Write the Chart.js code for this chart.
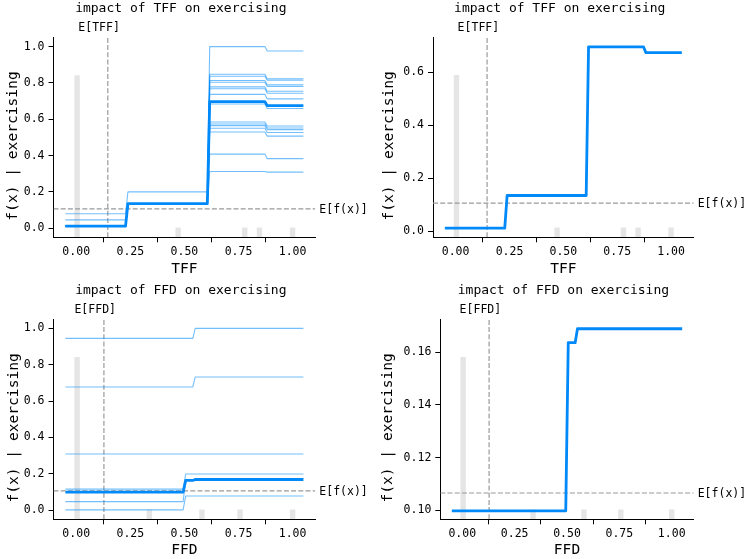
<!DOCTYPE html>
<html>
<head>
<meta charset="utf-8">
<title>Partial dependence of exercising</title>
<script src="https://cdn.jsdelivr.net/npm/chart.js@4.4.1/dist/chart.umd.min.js"></script>
<style>
    html, body { margin: 0; padding: 0; background: #fff; }
    #page { position: relative; width: 746px; height: 559px; overflow: hidden; }
    .panel { position: absolute; }
</style>
</head>
<body>
<div id="page">
    <div class="panel" id="wrap_tff_ice"><canvas id="tff_ice"></canvas></div>
    <div class="panel" id="wrap_tff_pdp"><canvas id="tff_pdp"></canvas></div>
    <div class="panel" id="wrap_ffd_ice"><canvas id="ffd_ice"></canvas></div>
    <div class="panel" id="wrap_ffd_pdp"><canvas id="ffd_pdp"></canvas></div>
</div>
<script>
// --- TFF: grid points around each level change, averaged curve and ICE curves
const tffX = [-0.05, 0.228, 0.239, 0.606, 0.617, 0.872, 0.883, 1.05];
const tffPdp = [0.012, 0.012, 0.135, 0.135, 0.697, 0.697, 0.675, 0.675];
const tffIce = [
    [0.080, 0.080, 0.200, 0.200, 1.000, 1.000, 0.976, 0.976],
    [0.046, 0.046, 0.135, 0.135, 0.848, 0.848, 0.822, 0.822],
    [0.010, 0.010, 0.135, 0.135, 0.837, 0.837, 0.815, 0.815],
    [0.010, 0.010, 0.135, 0.135, 0.813, 0.813, 0.789, 0.789],
    [0.010, 0.010, 0.135, 0.135, 0.804, 0.804, 0.780, 0.780],
    [0.010, 0.010, 0.135, 0.135, 0.778, 0.778, 0.754, 0.754],
    [0.010, 0.010, 0.135, 0.135, 0.768, 0.768, 0.743, 0.743],
    [0.010, 0.010, 0.135, 0.135, 0.737, 0.737, 0.712, 0.712],
    [0.010, 0.010, 0.135, 0.135, 0.684, 0.684, 0.659, 0.659],
    [0.010, 0.010, 0.135, 0.135, 0.585, 0.585, 0.563, 0.563],
    [0.010, 0.010, 0.135, 0.135, 0.574, 0.574, 0.552, 0.552],
    [0.010, 0.010, 0.135, 0.135, 0.565, 0.565, 0.543, 0.543],
    [0.010, 0.010, 0.135, 0.135, 0.550, 0.550, 0.527, 0.527],
    [0.010, 0.010, 0.135, 0.135, 0.530, 0.530, 0.507, 0.507],
    [0.010, 0.010, 0.135, 0.135, 0.408, 0.408, 0.383, 0.383],
    [0.010, 0.010, 0.135, 0.135, 0.312, 0.312, 0.309, 0.309]
];
const tffHistX = [0.004, 0.471, 0.779, 0.847, 1.0];
const tffHistCount = [17, 1, 1, 1, 1];
const tffMean = 0.146;

// --- FFD
const ffdX = [-0.05, 0.494, 0.506, 0.539, 0.55, 1.05];
const ffdPdp = [0.0997, 0.0997, 0.1637, 0.1637, 0.169, 0.169];
const ffdIce = [
    [0.945, 0.945, 0.945, 0.945, 1.000, 1.000],
    [0.678, 0.678, 0.678, 0.678, 0.733, 0.733],
    [0.309, 0.309, 0.309, 0.309, 0.309, 0.309],
    [0.116, 0.116, 0.199, 0.199, 0.199, 0.199],
    [0.047, 0.047, 0.166, 0.166, 0.173, 0.173],
    [0.002, 0.002, 0.078, 0.078, 0.078, 0.078]
];
const ffdHistX = [0.004, 0.338, 0.581, 0.757, 1.0];
const ffdHistCount = [17, 1, 1, 1, 1];
const ffdMean = 0.128;

const expectedValue = 0.1065;
const sampleCount = 21;

// --- tick labels
const xTicks = [0, 0.25, 0.5, 0.75, 1.0];
const xTickLabels = ['0.00', '0.25', '0.50', '0.75', '1.00'];
const iceYTicks = [0, 0.2, 0.4, 0.6, 0.8, 1.0];
const iceYTickLabels = ['0.0', '0.2', '0.4', '0.6', '0.8', '1.0'];
const tffYTicks = [0, 0.2, 0.4, 0.6];
const tffYTickLabels = ['0.0', '0.2', '0.4', '0.6'];
const ffdYTicks = [0.10, 0.12, 0.14, 0.16];
const ffdYTickLabels = ['0.10', '0.12', '0.14', '0.16'];

const MONO = '"DejaVu Sans Mono", "Liberation Mono", monospace';
const PDP_COLOR = 'rgb(0, 137, 248)';
const ICE_COLOR = 'rgba(0, 139, 251, 0.55)';
const MEAN_COLOR = '#999999';

// titles, E[..] labels and the y label, drawn around the plot area
const panelText = {
    id: 'panelText',
    afterDraw(chart, args, opts) {
        const { ctx, chartArea: ca, scales } = chart;
        ctx.save();
        ctx.fillStyle = '#000';

        ctx.font = `13px ${MONO}`;
        ctx.textAlign = 'center';
        ctx.textBaseline = 'alphabetic';
        ctx.fillText(opts.title, (ca.left + ca.right) / 2 - 3.6, ca.top - 25.8);

        ctx.font = `11.5px ${MONO}`;
        ctx.fillText(opts.meanLabel, scales.x.getPixelForValue(opts.mean) - 8.7, ca.top - 6.8);

        ctx.textAlign = 'left';
        ctx.textBaseline = 'middle';
        ctx.fillText('E[f(x)]', ca.right + 4, scales.y.getPixelForValue(opts.base) + 1);

        ctx.font = `14.6px ${MONO}`;
        ctx.translate(opts.yLabelX, (ca.top + ca.bottom) / 2 + 8.6);
        ctx.rotate(-Math.PI / 2);
        ctx.textAlign = 'center';
        ctx.fillText(opts.yLabel, 0, 0);
        ctx.restore();
    }
};

function toPoints(xs, ys) {
    return xs.map((x, i) => ({ x: x, y: ys[i] }));
}

function lineSet(points, color, width, order) {
    return {
        type: 'line',
        data: points,
        borderColor: color,
        borderWidth: width,
        pointRadius: 0,
        tension: 0,
        fill: false,
        borderJoinStyle: 'round',
        order: order
    };
}

function renderPanel(canvasId, p) {
    const wrap = document.getElementById('wrap_' + canvasId);
    wrap.style.left = p.left + 'px';
    wrap.style.top = p.top + 'px';
    wrap.style.width = p.w + 'px';
    wrap.style.height = p.h + 'px';

    const datasets = [];
    datasets.push({
        type: 'bar',
        data: toPoints(p.histX, p.histCount),
        yAxisID: 'yHist',
        backgroundColor: 'rgba(0, 0, 0, 0.1)',
        borderWidth: 0,
        barThickness: 4.8,
        order: 10
    });
    const vline = lineSet(toPoints([p.mean, p.mean], [p.yMin, p.yMax]), MEAN_COLOR, 1.2, 8);
    vline.borderDash = [5, 2.2];
    datasets.push(vline);
    const hline = lineSet(toPoints([-0.105, 1.105], [expectedValue, expectedValue]), MEAN_COLOR, 1.2, 8);
    hline.borderDash = [5, 2.2];
    datasets.push(hline);

    (p.ice || []).forEach(ys => {
        datasets.push(lineSet(toPoints(p.x, ys), ICE_COLOR, 1.1, 5));
    });
    datasets.push(lineSet(toPoints(p.x, p.pdp), PDP_COLOR, 2.8, 1));

    const tickFont = { family: MONO, size: 11.5 };

    new Chart(document.getElementById(canvasId), {
        type: 'line',
        data: { datasets: datasets },
        plugins: [panelText],
        options: {
            responsive: true,
            maintainAspectRatio: false,
            animation: false,
            events: [],
            layout: { padding: { left: 0, top: p.padTop, right: p.padRight, bottom: 0 } },
            plugins: {
                legend: { display: false },
                tooltip: { enabled: false },
                panelText: {
                    title: `impact of ${p.feature} on exercising`,
                    meanLabel: `E[${p.feature}]`,
                    mean: p.mean,
                    base: expectedValue,
                    yLabel: 'f(x) | exercising',
                    yLabelX: p.yLabelX
                }
            },
            scales: {
                x: {
                    type: 'linear',
                    min: -0.105,
                    max: 1.105,
                    offset: false,
                    afterBuildTicks: s => { s.ticks = xTicks.map(v => ({ value: v })); },
                    afterFit: s => { s.height = p.xAxisH; },
                    ticks: {
                        callback: (v, i) => xTickLabels[i],
                        font: tickFont,
                        color: '#000',
                        padding: 3,
                        maxRotation: 0,
                        autoSkip: false
                    },
                    grid: { drawOnChartArea: false, drawTicks: true, tickLength: 5, color: '#000', lineWidth: 1 },
                    border: { display: true, color: '#000', width: 1 },
                    title: {
                        display: true,
                        text: p.feature,
                        font: { family: MONO, size: 14.6 },
                        color: '#000',
                        padding: { top: 0, bottom: p.xTitlePad }
                    }
                },
                y: {
                    type: 'linear',
                    position: 'left',
                    min: p.yMin,
                    max: p.yMax,
                    afterBuildTicks: s => { s.ticks = p.yTicks.map(v => ({ value: v })); },
                    afterFit: s => { s.width = p.yAxisW; },
                    ticks: {
                        callback: (v, i) => p.yTickLabels[i],
                        font: tickFont,
                        color: '#000',
                        padding: 4,
                        autoSkip: false
                    },
                    grid: { drawOnChartArea: false, drawTicks: true, tickLength: 5, color: '#000', lineWidth: 1 },
                    border: { display: true, color: '#000', width: 1 }
                },
                yHist: {
                    type: 'linear',
                    display: false,
                    min: 0,
                    max: sampleCount
                }
            }
        }
    });
}

renderPanel('tff_ice', {
    left: 0, top: 0, w: 373, h: 280,
    yAxisW: 53.5, xAxisH: 42.7, padTop: 37.5, padRight: 57.7, yLabelX: 13, xTitlePad: 2.2,
    feature: 'TFF', x: tffX, pdp: tffPdp, ice: tffIce,
    histX: tffHistX, histCount: tffHistCount, mean: tffMean,
    yMin: -0.05, yMax: 1.05, yTicks: iceYTicks, yTickLabels: iceYTickLabels
});

renderPanel('tff_pdp', {
    left: 373, top: 0, w: 373, h: 280,
    yAxisW: 60, xAxisH: 42.7, padTop: 37.3, padRight: 52.3, yLabelX: 16, xTitlePad: 2.2,
    feature: 'TFF', x: tffX, pdp: tffPdp, ice: null,
    histX: tffHistX, histCount: tffHistCount, mean: tffMean,
    yMin: -0.023, yMax: 0.733, yTicks: tffYTicks, yTickLabels: tffYTickLabels
});

renderPanel('ffd_ice', {
    left: 0, top: 280, w: 373, h: 279,
    yAxisW: 53.5, xAxisH: 39.7, padTop: 39.3, padRight: 57.7, yLabelX: 14, xTitlePad: 0,
    feature: 'FFD', x: ffdX, pdp: ffdPdp, ice: ffdIce,
    histX: ffdHistX, histCount: ffdHistCount, mean: ffdMean,
    yMin: -0.05, yMax: 1.05, yTicks: iceYTicks, yTickLabels: iceYTickLabels
});

renderPanel('ffd_pdp', {
    left: 373, top: 280, w: 373, h: 279,
    yAxisW: 67.3, xAxisH: 39.7, padTop: 39.3, padRight: 52.3, yLabelX: 15, xTitlePad: 0,
    feature: 'FFD', x: ffdX, pdp: ffdPdp, ice: null,
    histX: ffdHistX, histCount: ffdHistCount, mean: ffdMean,
    yMin: 0.0965, yMax: 0.1726, yTicks: ffdYTicks, yTickLabels: ffdYTickLabels
});
</script>
</body>
</html>
